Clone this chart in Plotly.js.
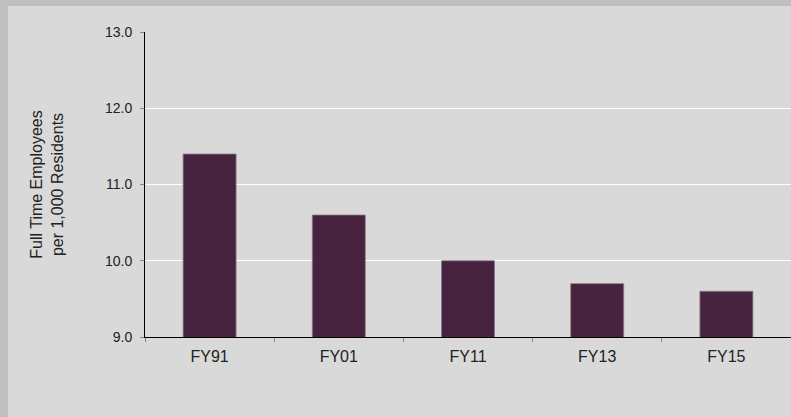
<!DOCTYPE html>
<html><head><meta charset="utf-8">
<script src="https://cdn.plot.ly/plotly-3.0.1.min.js"></script>
<style>
html,body{margin:0;padding:0;background:#c0c0c0;width:791px;height:417px;overflow:hidden;}
#chart{position:absolute;left:8px;top:6px;width:783px;height:411px;}
</style></head>
<body><div id="chart"></div>
<script>
const categories = ["FY91","FY01","FY11","FY13","FY15"];
const employeesPer1000 = [11.4, 10.6, 10.0, 9.7, 9.6];
const yTickValues = [9, 10, 11, 12, 13];
const yTitle = "Full Time Employees<br>per 1,000 Residents";

const trace = {
  type: "bar",
  x: categories,
  y: employeesPer1000,
  width: 0.41,
  marker: {color: "#48233f", line: {color: "#8a7a86", width: 0.8}},
  hoverinfo: "x+y"
};

const layout = {
  width: 783, height: 411,
  paper_bgcolor: "#d9d9d9",
  plot_bgcolor: "#d9d9d9",
  margin: {l: 137, r: 0, t: 26, b: 80},
  showlegend: false,
  font: {family: "Liberation Sans, Arial, sans-serif", size: 14, color: "#222"},
  xaxis: {
    type: "category",
    showgrid: false,
    showline: true, linecolor: "#000", linewidth: 1,
    ticks: "outside", tickson: "boundaries", ticklen: 4, tickcolor: "#888",
    ticklabelstandoff: 5,
    tickfont: {size: 16, color: "#222"},
    zeroline: false
  },
  yaxis: {
    range: [9, 13],
    tickvals: yTickValues,
    ticktext: yTickValues.map(v => v.toFixed(1)),
    showgrid: true, gridcolor: "#ffffff", gridwidth: 1,
    showline: true, linecolor: "#000", linewidth: 1,
    ticks: "outside", ticklen: 4, tickcolor: "#888",
    ticklabelstandoff: 5,
    tickfont: {size: 14, color: "#222"},
    zeroline: false,
    title: {text: yTitle, font: {size: 16, color: "#222"}, standoff: 37}
  }
};
Plotly.newPlot("chart", [trace], layout, {displayModeBar: false, staticPlot: true});
</script></body></html>
